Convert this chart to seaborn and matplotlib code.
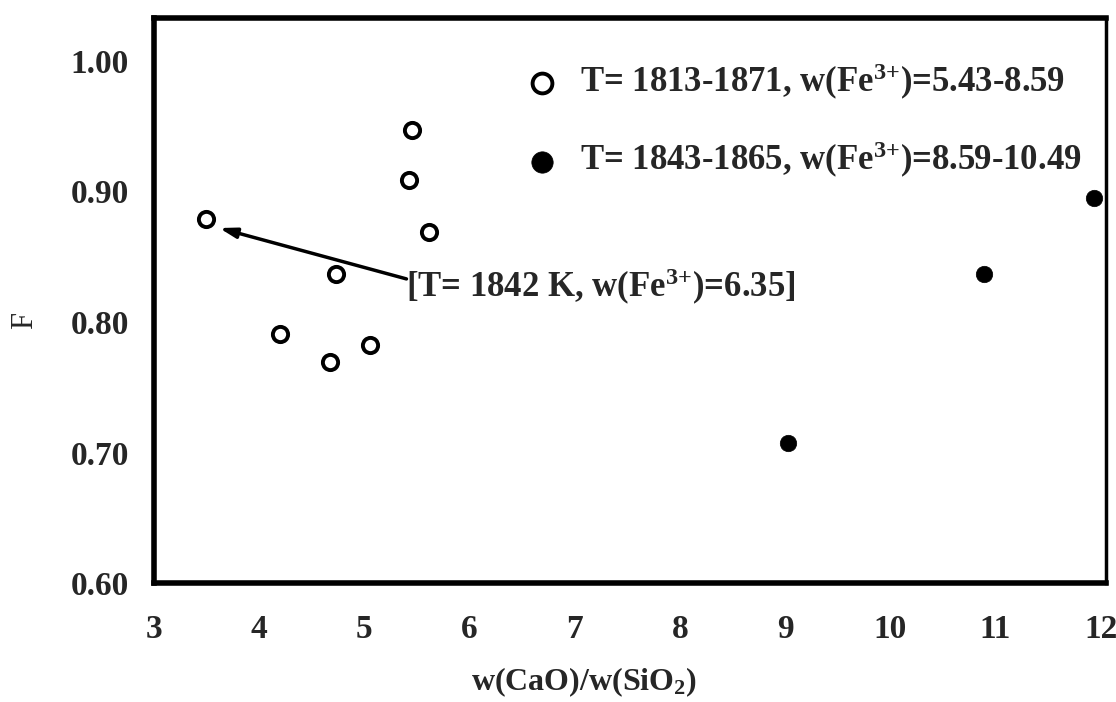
import numpy as np
import seaborn as sns
import matplotlib.pyplot as plt
import pandas as pd

# data
open_x = [3.49, 5.45, 5.42, 5.61, 4.73, 4.20, 4.67, 5.05]
open_y = [0.879, 0.947, 0.909, 0.869, 0.837, 0.791, 0.769, 0.782]
fill_x = [11.94, 10.89, 9.03]
fill_y = [0.895, 0.837, 0.707]
x_ticks = [3, 4, 5, 6, 7, 8, 9, 10, 11, 12]
y_ticks = [0.60, 0.70, 0.80, 0.90, 1.00]
label_open = 'T= 1813-1871, w(Fe$^{3{+}}$)=5.43-8.59'
label_fill = 'T= 1843-1865, w(Fe$^{3{+}}$)=8.59-10.49'
note_text = '[T= 1842 K, w(Fe$^{3{+}}$)=6.35]'
note_point = (3.62, 0.872)
note_tail = (5.4, 0.833)

sns.set_style('white')
plt.rcParams['font.family'] = ['Liberation Serif', 'DejaVu Serif']
plt.rcParams['font.weight'] = 'bold'
plt.rcParams['mathtext.fontset'] = 'custom'
plt.rcParams['mathtext.rm'] = 'Liberation Serif:bold'
plt.rcParams['mathtext.it'] = 'Liberation Serif:bold:italic'

fig = plt.figure(figsize=(11.16, 7.02), dpi=100)
ax = fig.add_axes([0.138, 0.1695, 0.853, 0.805])

sns.scatterplot(x=open_x, y=open_y, ax=ax, marker='o', s=120, facecolor='white',
                edgecolor='black', linewidth=2.8, label=label_open, zorder=3)
sns.scatterplot(x=fill_x, y=fill_y, ax=ax, marker='o', s=140, color='black',
                edgecolor='black', linewidth=0.5, label=label_fill, zorder=3)

# arrow + note text
ax.annotate('', xy=note_point, xytext=note_tail,
            arrowprops=dict(arrowstyle='-|>,head_length=1.0,head_width=0.3',
                            color='black', lw=2.5, shrinkA=0, shrinkB=0))
ax.text(note_tail[0], note_tail[1] - 0.006, note_text, fontsize=25,
        fontweight='bold', va='center', ha='left')

ax.set_xlim(3, 12.05)
ax.set_ylim(0.60, 1.033)
ax.set_xticks(x_ticks)
ax.set_yticks(y_ticks)
ax.set_yticklabels(['%.2f' % v for v in y_ticks])
ax.tick_params(axis='both', direction='in', length=7, width=2, labelsize=24)
ax.tick_params(axis='x', pad=22)
ax.tick_params(axis='y', pad=18)

for side in ['left', 'bottom', 'top']:
    ax.spines[side].set_linewidth(4)
ax.spines['right'].set_linewidth(2.5)
for s in ax.spines.values():
    s.set_color('black')

ax.set_xlabel('w(CaO)/w(SiO$_2$)', fontsize=23, fontweight='bold')
ax.xaxis.set_label_coords(0.452, -0.146)
ax.set_ylabel('F', fontsize=22, fontweight='normal')
ax.yaxis.set_label_coords(-0.121, 0.465)

leg = ax.legend(loc='upper right', frameon=False, fontsize=25, labelspacing=1.1,
                handletextpad=0.1, borderaxespad=0.3, markerscale=1.3,
                bbox_to_anchor=(1.0, 0.965))

fig.savefig('out.png', dpi=100)
